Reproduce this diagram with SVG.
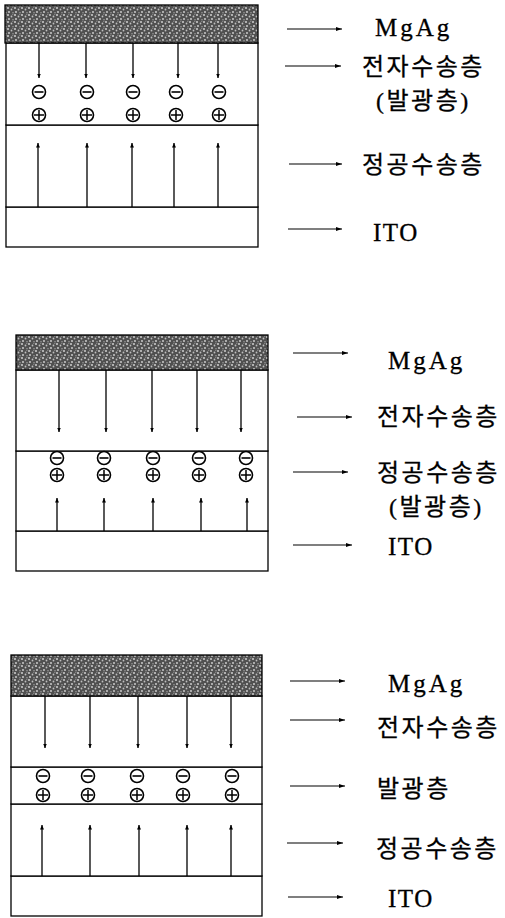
<svg xmlns="http://www.w3.org/2000/svg" width="505" height="918" viewBox="0 0 505 918">
<defs>
<pattern id="stip" width="7" height="7" patternUnits="userSpaceOnUse">
<rect width="7" height="7" fill="#505050"/>
<circle cx="1" cy="1" r="1" fill="#cfcfcf"/>
<circle cx="4.5" cy="2.5" r="0.9" fill="#bdbdbd"/>
<circle cx="2" cy="5" r="0.9" fill="#d6d6d6"/>
<circle cx="6" cy="5.8" r="0.7" fill="#aaa"/>
<circle cx="5.8" cy="0.4" r="0.5" fill="#999"/>
</pattern>
<marker id="ah" markerUnits="userSpaceOnUse" markerWidth="7" markerHeight="5" refX="6" refY="2.5" orient="auto">
<path d="M0,0.5 L6,2.5 L0,4.5 z" fill="#000"/>
</marker>
<marker id="ahs" markerUnits="userSpaceOnUse" markerWidth="5" markerHeight="4" refX="4.5" refY="2" orient="auto">
<path d="M0,0 L4.5,2 L0,4 z" fill="#000"/>
</marker>
<g id="minus"><circle r="6.5" fill="#fff" stroke="#000" stroke-width="1.6"/><line x1="-4.5" y1="0" x2="4.5" y2="0" stroke="#000" stroke-width="1.6"/></g>
<g id="plus"><circle r="6.5" fill="#fff" stroke="#000" stroke-width="1.6"/><line x1="-5" y1="0" x2="5" y2="0" stroke="#000" stroke-width="1.5"/><line x1="0" y1="-5" x2="0" y2="5" stroke="#000" stroke-width="1.5"/></g>
</defs>
<style>
.lay{fill:#fff;stroke:#000;stroke-width:1.3}
.mg{fill:url(#stip);stroke:#000;stroke-width:1.3}
.lbl{font-family:"Liberation Serif","Noto Sans CJK KR",serif;font-size:24px;fill:#000;letter-spacing:2.5px;stroke:#000;stroke-width:0.3}
.lat{font-family:"Liberation Serif","Noto Sans CJK KR",serif;font-size:25px;fill:#000;letter-spacing:3px;stroke:#000;stroke-width:0.3}
.la{stroke:#000;stroke-width:1.1;fill:none;marker-end:url(#ah)}
.ca{stroke:#000;stroke-width:1.3;fill:none;marker-end:url(#ahs)}
</style>
<rect width="505" height="918" fill="#fff"/>

<!-- Panel 1 -->
<g id="p1-ito"><rect class="lay" x="6" y="207" width="252" height="40"/></g>
<g id="p1-htl"><rect class="lay" x="6" y="125" width="252" height="82"/></g>
<g id="p1-etl"><rect class="lay" x="6" y="43" width="252" height="82"/></g>
<g id="p1-mgag"><rect class="mg" x="5" y="5" width="253" height="38"/></g>
<g id="p1-charges">
<use href="#minus" x="39" y="92"/><use href="#minus" x="87" y="92"/><use href="#minus" x="133" y="92"/><use href="#minus" x="176" y="92"/><use href="#minus" x="219" y="92"/>
<use href="#plus" x="39" y="115"/><use href="#plus" x="87" y="115"/><use href="#plus" x="133" y="115"/><use href="#plus" x="176" y="115"/><use href="#plus" x="219" y="115"/>
</g>
<g id="p1-labels">
<text class="lat" x="375" y="36">MgAg</text>
<text class="lbl" x="362" y="75">전자수송층</text>
<text class="lbl" x="376" y="109">(발광층)</text>
<text class="lbl" x="362" y="173">정공수송층</text>
<text class="lat" x="373" y="241" style="letter-spacing:1.5px">ITO</text>
</g>

<!-- Panel 2 -->
<g id="p2-ito"><rect class="lay" x="16" y="531" width="252" height="40"/></g>
<g id="p2-htl"><rect class="lay" x="16" y="451" width="252" height="80"/></g>
<g id="p2-etl"><rect class="lay" x="16" y="370" width="252" height="81"/></g>
<g id="p2-mgag"><rect class="mg" x="16" y="335" width="252" height="35"/></g>
<g id="p2-charges">
<use href="#minus" x="57" y="458"/><use href="#minus" x="104" y="458"/><use href="#minus" x="153" y="458"/><use href="#minus" x="199" y="458"/><use href="#minus" x="246" y="458"/>
<use href="#plus" x="57" y="475"/><use href="#plus" x="104" y="475"/><use href="#plus" x="153" y="475"/><use href="#plus" x="199" y="475"/><use href="#plus" x="246" y="475"/>
</g>
<g id="p2-labels">
<text class="lat" x="388" y="369">MgAg</text>
<text class="lbl" x="377" y="425">전자수송층</text>
<text class="lbl" x="377" y="481">정공수송층</text>
<text class="lbl" x="389" y="515">(발광층)</text>
<text class="lat" x="388" y="555" style="letter-spacing:1.5px">ITO</text>
</g>

<!-- Panel 3 -->
<g id="p3-ito"><rect class="lay" x="11" y="876" width="251" height="40"/></g>
<g id="p3-htl"><rect class="lay" x="11" y="804" width="251" height="72"/></g>
<g id="p3-eml"><rect class="lay" x="11" y="767" width="251" height="37"/></g>
<g id="p3-etl"><rect class="lay" x="11" y="696" width="251" height="71"/></g>
<g id="p3-mgag"><rect class="mg" x="11" y="655" width="251" height="41"/></g>
<g id="p3-charges">
<use href="#minus" x="43" y="776"/><use href="#minus" x="88" y="776"/><use href="#minus" x="137" y="776"/><use href="#minus" x="183" y="776"/><use href="#minus" x="232" y="776"/>
<use href="#plus" x="43" y="795"/><use href="#plus" x="88" y="795"/><use href="#plus" x="137" y="795"/><use href="#plus" x="183" y="795"/><use href="#plus" x="232" y="795"/>
</g>
<g id="p3-labels">
<text class="lat" x="388" y="692">MgAg</text>
<text class="lbl" x="377" y="736">전자수송층</text>
<text class="lbl" x="377" y="797">발광층</text>
<text class="lbl" x="376" y="857">정공수송층</text>
<text class="lat" x="388" y="907" style="letter-spacing:1.5px">ITO</text>
</g>

<g id="connectors">
<line class="la" x1="287" y1="29" x2="342" y2="29"/>
<line class="la" x1="285" y1="66" x2="341" y2="66"/>
<line class="la" x1="289" y1="164" x2="342" y2="164"/>
<line class="la" x1="288" y1="229" x2="342" y2="229"/>
<line class="ca" x1="39" y1="43" x2="39" y2="78"/><line class="ca" x1="86" y1="43" x2="86" y2="78"/><line class="ca" x1="133" y1="43" x2="133" y2="78"/><line class="ca" x1="178" y1="43" x2="178" y2="78"/><line class="ca" x1="218" y1="43" x2="218" y2="78"/>
<line class="ca" x1="38" y1="207" x2="38" y2="143"/><line class="ca" x1="87" y1="207" x2="87" y2="143"/><line class="ca" x1="132" y1="207" x2="132" y2="143"/><line class="ca" x1="174" y1="207" x2="174" y2="143"/><line class="ca" x1="218" y1="207" x2="218" y2="143"/>
<line class="la" x1="293" y1="353" x2="348" y2="353"/>
<line class="la" x1="297" y1="417" x2="352" y2="417"/>
<line class="la" x1="293" y1="472" x2="348" y2="472"/>
<line class="la" x1="293" y1="545" x2="352" y2="545"/>
<line class="ca" x1="59" y1="370" x2="59" y2="432"/><line class="ca" x1="106" y1="370" x2="106" y2="432"/><line class="ca" x1="152" y1="370" x2="152" y2="432"/><line class="ca" x1="197" y1="370" x2="197" y2="432"/><line class="ca" x1="241" y1="370" x2="241" y2="432"/>
<line class="ca" x1="57" y1="531" x2="57" y2="498"/><line class="ca" x1="104" y1="531" x2="104" y2="498"/><line class="ca" x1="153" y1="531" x2="153" y2="498"/><line class="ca" x1="201" y1="531" x2="201" y2="498"/><line class="ca" x1="247" y1="531" x2="247" y2="498"/>
<line class="la" x1="290" y1="681" x2="345" y2="681"/>
<line class="la" x1="290" y1="720" x2="345" y2="720"/>
<line class="la" x1="290" y1="786" x2="345" y2="786"/>
<line class="la" x1="287" y1="843" x2="343" y2="843"/>
<line class="la" x1="288" y1="897" x2="343" y2="897"/>
<line class="ca" x1="45" y1="696" x2="45" y2="748"/><line class="ca" x1="90" y1="696" x2="90" y2="748"/><line class="ca" x1="138" y1="696" x2="138" y2="748"/><line class="ca" x1="187" y1="696" x2="187" y2="748"/><line class="ca" x1="231" y1="696" x2="231" y2="748"/>
<line class="ca" x1="42" y1="876" x2="42" y2="825"/><line class="ca" x1="90" y1="876" x2="90" y2="825"/><line class="ca" x1="139" y1="876" x2="139" y2="825"/><line class="ca" x1="187" y1="876" x2="187" y2="825"/><line class="ca" x1="231" y1="876" x2="231" y2="825"/>
</g>
</svg>
